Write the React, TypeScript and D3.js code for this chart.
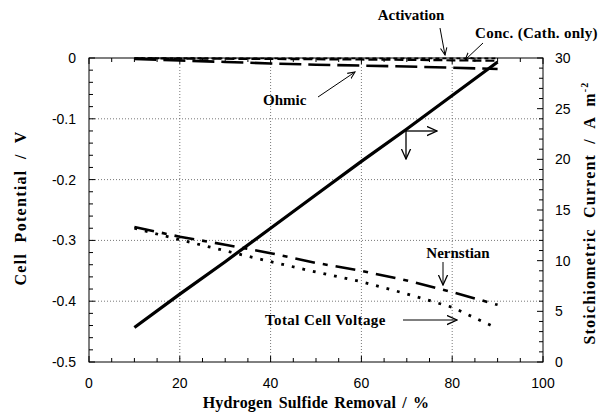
import React from "react";
import * as d3 from "d3";

const removal = [10, 20, 30, 40, 50, 60, 70, 80, 90];
const nernstian = [-0.278, -0.294, -0.307, -0.321, -0.337, -0.35, -0.366, -0.385, -0.406];
const totalVoltage = [-0.28, -0.299, -0.317, -0.335, -0.352, -0.368, -0.388, -0.41, -0.445];
const activation = [-0.0004, -0.0004, -0.0005, -0.0005, -0.0005, -0.0006, -0.0006, -0.0006, -0.0007];
const conc = [-0.0006, -0.0009, -0.0012, -0.0016, -0.002, -0.0025, -0.003, -0.0038, -0.0046];
const ohmic = [-0.0015, -0.004, -0.0065, -0.009, -0.011, -0.0125, -0.014, -0.016, -0.018];
const current = [3.4, 6.7, 9.9, 13.2, 16.5, 19.8, 23.0, 26.3, 29.6];

const xTicks = [0, 20, 40, 60, 80, 100];
const yLeftTicks = [0, -0.1, -0.2, -0.3, -0.4, -0.5];
const yRightTicks = [0, 5, 10, 15, 20, 25, 30];

const L = 89, R = 543, T = 58, B = 362;

export default function App() {
  const x = d3.scaleLinear().domain([0, 100]).range([L, R]);
  const yL = d3.scaleLinear().domain([-0.5, 0]).range([B, T]);
  const yR = d3.scaleLinear().domain([0, 30]).range([B, T]);

  const lineL = (vals: number[]) =>
    d3.line<number>().x((_, i) => x(removal[i])).y((v) => yL(v))(vals) || "";
  const lineR = (vals: number[]) =>
    d3.line<number>().x((_, i) => x(removal[i])).y((v) => yR(v))(vals) || "";

  const xMinor = d3.range(0, 101, 5);
  const yLMinor = d3.range(0, 26, 1).map((i) => -0.5 + i * 0.02);
  const yRMinor = d3.range(0, 31, 1);

  const tickFont = "'Liberation Sans', Arial, sans-serif";
  const labFont = "'Liberation Serif', 'Times New Roman', serif";

  return (
    <svg width={608} height={412} style={{ position: "absolute", left: 0, top: 0, background: "#fff" }}>
      <defs>
        <marker id="ah" viewBox="0 0 10 10" refX="9" refY="5" markerWidth="8" markerHeight="8" orient="auto" markerUnits="userSpaceOnUse">
          <path d="M0,1 L9,5 L0,9" fill="none" stroke="#000" strokeWidth={1.3} />
        </marker>
        <marker id="ahb" viewBox="0 0 12 12" refX="11" refY="6" markerWidth="11" markerHeight="11" orient="auto" markerUnits="userSpaceOnUse">
          <path d="M0,1 L11,6 L0,11" fill="none" stroke="#000" strokeWidth={1.4} />
        </marker>
      </defs>
      {/* gridlines */}
      {[20, 40, 60, 80].map((v) => (
        <line key={"gx" + v} x1={x(v)} x2={x(v)} y1={T} y2={B} stroke="#555" strokeWidth={0.8} strokeDasharray="1,2" />
      ))}
      {[-0.1, -0.2, -0.3, -0.4].map((v) => (
        <line key={"gy" + v} x1={L} x2={R} y1={yL(v)} y2={yL(v)} stroke="#555" strokeWidth={0.8} strokeDasharray="1,2" />
      ))}
      {/* frame */}
      <rect x={L} y={T} width={R - L} height={B - T} fill="none" stroke="#000" strokeWidth={1} />
      {/* ticks */}
      {xMinor.map((v) => {
        const major = v % 20 === 0;
        const len = major ? 6 : 4;
        return (
          <g key={"xt" + v}>
            <line x1={x(v)} x2={x(v)} y1={B} y2={B - len} stroke="#000" strokeWidth={1} />
            <line x1={x(v)} x2={x(v)} y1={T} y2={T + len} stroke="#000" strokeWidth={1} />
          </g>
        );
      })}
      {yLMinor.map((v, i) => (
        <line key={"ylt" + i} x1={L} x2={L + (i % 5 === 0 ? 6 : 4)} y1={yL(v)} y2={yL(v)} stroke="#000" strokeWidth={1} />
      ))}
      {yRMinor.map((v) => (
        <line key={"yrt" + v} x1={R} x2={R - (v % 5 === 0 ? 6 : 4)} y1={yR(v)} y2={yR(v)} stroke="#000" strokeWidth={1} />
      ))}
      {/* tick labels */}
      {xTicks.map((v) => (
        <text key={"xl" + v} x={x(v)} y={388} textAnchor="middle" fontFamily={tickFont} fontSize={14}>{v}</text>
      ))}
      {yLeftTicks.map((v) => (
        <text key={"yll" + v} x={76} y={yL(v) + 5} textAnchor="end" fontFamily={tickFont} fontSize={14}>{v === 0 ? "0" : v.toString()}</text>
      ))}
      {yRightTicks.map((v) => (
        <text key={"yrl" + v} x={555} y={yR(v) + 5} textAnchor="start" fontFamily={tickFont} fontSize={14}>{v}</text>
      ))}
      {/* axis titles */}
      <text x={316} y={408} textAnchor="middle" fontFamily={labFont} fontWeight="bold" fontSize={16} letterSpacing={0.2} wordSpacing={2}>Hydrogen Sulfide Removal / %</text>
      <text transform={`translate(26,${(T + B) / 2 - 2}) rotate(-90)`} textAnchor="middle" fontFamily={labFont} fontWeight="bold" fontSize={16} letterSpacing={1.3} wordSpacing={5}>Cell Potential / V</text>
      <text transform={`translate(595,${(T + B) / 2 + 3}) rotate(-90)`} textAnchor="middle" fontFamily={labFont} fontWeight="bold" fontSize={16} letterSpacing={1.2} wordSpacing={5}>
        Stoichiometric Current / A m<tspan dy={-7} fontSize={10}>-2</tspan>
      </text>
      {/* series */}
      <path d={lineR(current)} fill="none" stroke="#000" strokeWidth={3.2} />
      <path d={lineL(nernstian)} fill="none" stroke="#000" strokeWidth={2.6} strokeDasharray="20,8,5,8" />
      <path d={lineL(totalVoltage)} fill="none" stroke="#000" strokeWidth={2.8} strokeDasharray="2.8,8" />
      <path d={lineL(ohmic)} fill="none" stroke="#000" strokeWidth={2.6} strokeDasharray="22,7" />
      <path d={lineL(conc)} fill="none" stroke="#000" strokeWidth={2.2} strokeDasharray="9,4" />
      <path d={lineL(activation)} fill="none" stroke="#000" strokeWidth={1.8} strokeDasharray="4,3" />
      {/* annotations */}
      <text x={411} y={20} textAnchor="middle" fontFamily={labFont} fontWeight="bold" fontSize={15}>Activation</text>
      <line x1={440} y1={28} x2={445} y2={55} stroke="#000" strokeWidth={1} markerEnd="url(#ah)" />
      <text x={475} y={38} textAnchor="start" fontFamily={labFont} fontWeight="bold" fontSize={15} letterSpacing={0.3}>Conc. (Cath. only)</text>
      <line x1={483} y1={43} x2={465} y2={60} stroke="#000" strokeWidth={1} markerEnd="url(#ah)" />
      <text x={263} y={105} textAnchor="start" fontFamily={labFont} fontWeight="bold" fontSize={15}>Ohmic</text>
      <line x1={318} y1={97} x2={355} y2={72} stroke="#000" strokeWidth={1} markerEnd="url(#ah)" />
      <line x1={406} y1={131} x2={437} y2={131} stroke="#000" strokeWidth={1.3} markerEnd="url(#ahb)" />
      <line x1={406} y1={131} x2={406} y2={159} stroke="#000" strokeWidth={1.3} markerEnd="url(#ahb)" />
      <text x={458} y={258} textAnchor="middle" fontFamily={labFont} fontWeight="bold" fontSize={15}>Nernstian</text>
      <line x1={443} y1={262} x2={443} y2={285} stroke="#000" strokeWidth={1} markerEnd="url(#ahb)" />
      <text x={265} y={325} textAnchor="start" fontFamily={labFont} fontWeight="bold" fontSize={15} letterSpacing={0.4}>Total Cell Voltage</text>
      <line x1={403} y1={320} x2={457} y2={320} stroke="#000" strokeWidth={1} markerEnd="url(#ahb)" />
    </svg>
  );
}
